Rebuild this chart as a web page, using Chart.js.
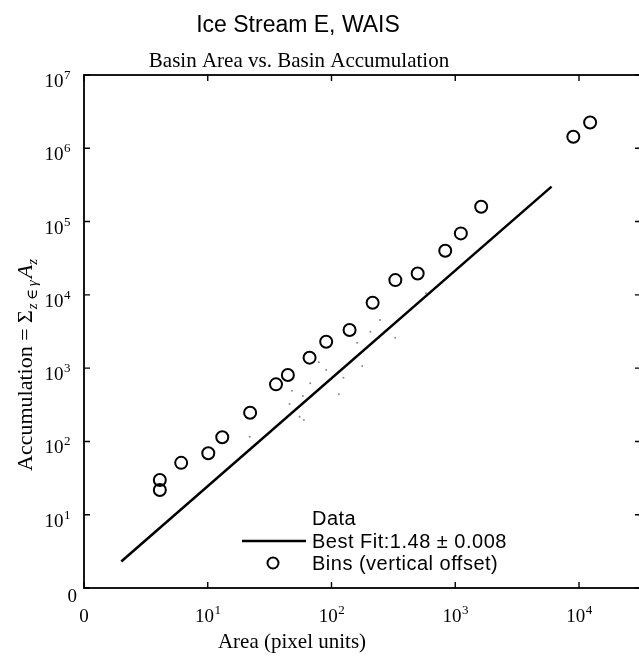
<!DOCTYPE html>
<html>
<head>
<meta charset="utf-8">
<script src="https://cdn.jsdelivr.net/npm/chart.js@4.4.0/dist/chart.umd.min.js"></script>
<style>
html,body{margin:0;padding:0;background:#fff;overflow:hidden}
#wrap{width:639px;height:656px;overflow:hidden}
</style>
</head>
<body>
<div id="wrap"><canvas id="myChart" width="650" height="656"></canvas></div>
<script>
// binned points (vertical offset)
const binArea=[4.1,4.1,6.1,10.1,13.1,22,35.6,44.4,66.5,90.6,140,215,328,497,830,1110,1620,9000,12300]
const binAccum=[29.7,21.7,51,69,114,246,601,805,1390,2290,3310,7800,15900,19600,40000,69000,159000,1440000,2250000]
// best fit line end points
const fitArea=[2,6000]
const fitAccum=[2.3,300000]
// faint raw data dots
const dataArea=[21.8,45.8,47.9,58.7,55.2,59.8,67.3,79,90.6,114.6,125,177,161,206,247,327,580]
const dataAccum=[116,324,492,416,217,196,621,1200,942,439,740,1069,2222,3140,4530,2600,10500]
const xTicks=[1,10,100,1000,10000]
const yTicks=[1,10,100,1000,10000,100000,1000000,10000000]

const toPts=(xs,ys)=>xs.map((x,i)=>({x:x,y:ys[i]}))

const serif='"Liberation Serif", "DejaVu Serif", serif'
const sans='"Liberation Sans", Arial, sans-serif'

// "10" with raised exponent, or "0" for 10^0
function drawPow(ctx,v,x,base,align){
  const e=Math.round(Math.log10(v))
  ctx.textBaseline='alphabetic'
  ctx.textAlign='left'
  if(e===0){
    ctx.font='19px '+serif
    const w=ctx.measureText('0').width
    const sx=align==='right'?x-w:x-w/2
    ctx.fillText('0',sx,base)
    return
  }
  ctx.font='19px '+serif
  const w1=ctx.measureText('10').width
  ctx.font='13px '+serif
  const w2=ctx.measureText(String(e)).width
  const sx=align==='right'?x-w1-w2:x-(w1+w2)/2
  ctx.font='19px '+serif
  ctx.fillText('10',sx,base)
  ctx.font='13px '+serif
  ctx.fillText(String(e),sx+w1+0.5,base-8)
}

const decor={
  id:'decor',
  afterDraw(chart){
    const ctx=chart.ctx
    const a=chart.chartArea
    const sx=chart.scales.x, sy=chart.scales.y
    ctx.save()
    // frame
    ctx.strokeStyle='#000'
    ctx.lineWidth=1.8
    ctx.strokeRect(a.left,a.top,a.right-a.left,a.bottom-a.top)
    // inward ticks
    ctx.lineWidth=1.4
    ctx.beginPath()
    sx.ticks.forEach(t=>{
      const px=sx.getPixelForValue(t.value)
      ctx.moveTo(px,a.bottom);ctx.lineTo(px,a.bottom-6)
      ctx.moveTo(px,a.top);ctx.lineTo(px,a.top+6)
    })
    sy.ticks.forEach(t=>{
      const py=sy.getPixelForValue(t.value)
      ctx.moveTo(a.left,py);ctx.lineTo(a.left+6,py)
      ctx.moveTo(a.right,py);ctx.lineTo(a.right-6,py)
    })
    ctx.stroke()

    // tick labels
    ctx.fillStyle='#000'
    sx.ticks.forEach(t=>{
      drawPow(ctx,t.value,sx.getPixelForValue(t.value),622,'center')
    })
    sy.ticks.forEach(t=>{
      const py=sy.getPixelForValue(t.value)
      if(t.value===1) drawPow(ctx,t.value,77,602,'right')
      else drawPow(ctx,t.value,70,py+12,'right')
    })

    // titles
    ctx.textAlign='center'
    ctx.textBaseline='alphabetic'
    ctx.font='23px '+sans
    ctx.fillText('Ice Stream E, WAIS',298,32)
    ctx.font='21px '+serif
    ctx.fillText('Basin Area vs. Basin Accumulation',299,67)
    ctx.fillText('Area (pixel units)',292,648)

    // y axis title with subscripts
    ctx.save()
    ctx.translate(32,365)
    ctx.rotate(-Math.PI/2)
    const parts=[
      {t:'Accumulation = \u03A3',f:'22px '+serif,dy:0,gap:1},
      {t:'z\u2009\u2208\u2009\u03B3',f:'italic 15px '+serif,dy:5,gap:2},
      {t:'A',f:'italic 22px '+serif,dy:0,gap:0},
      {t:'z',f:'italic 15px '+serif,dy:5,gap:0}
    ]
    let w=0
    parts.forEach(p=>{ctx.font=p.f;w+=ctx.measureText(p.t).width+p.gap})
    let x=-w/2
    ctx.textAlign='left'
    parts.forEach(p=>{ctx.font=p.f;ctx.fillText(p.t,x,p.dy);x+=ctx.measureText(p.t).width+p.gap})
    ctx.restore()

    // legend inside plot
    const ds=chart.data.datasets
    const rows=[518,541,563]
    ctx.textAlign='left'
    ctx.textBaseline='middle'
    ctx.font='20px '+sans
    if('letterSpacing' in ctx) ctx.letterSpacing='0.5px'
    ds.forEach((d,i)=>{
      const y=rows[i]
      if(d.showLine){
        ctx.strokeStyle='#000';ctx.lineWidth=2.5
        ctx.beginPath();ctx.moveTo(242,y);ctx.lineTo(306,y);ctx.stroke()
      }else if(d.pointRadius>2){
        ctx.strokeStyle='#000';ctx.lineWidth=2
        ctx.beginPath();ctx.arc(273,y,5.5,0,Math.PI*2);ctx.stroke()
      }
      ctx.fillStyle='#000'
      ctx.fillText(d.label,312,y+1)
    })
    ctx.restore()
  }
}

const ctx=document.getElementById('myChart').getContext('2d')
const chart=new Chart(ctx,{
  type:'scatter',
  data:{
    datasets:[
      {label:'Data',data:toPts(dataArea,dataAccum),pointRadius:1,pointBorderWidth:0,backgroundColor:'#8a8a8a',borderColor:'#8a8a8a',showLine:false},
      {label:'Best Fit:1.48 \u00B1 0.008',data:toPts(fitArea,fitAccum),showLine:true,pointRadius:0,borderColor:'#000',borderWidth:2.5,fill:false},
      {label:'Bins (vertical offset)',data:toPts(binArea,binAccum),pointRadius:6,pointBorderWidth:2,borderColor:'#000',backgroundColor:'rgba(0,0,0,0)',pointStyle:'circle',showLine:false}
    ]
  },
  options:{
    responsive:false,
    animation:false,
    layout:{padding:{top:75,left:0,right:9,bottom:0}},
    plugins:{legend:{display:false},tooltip:{enabled:false},title:{display:false}},
    scales:{
      x:{
        type:'logarithmic',
        min:1,
        max:31700,
        grid:{display:false,drawTicks:false},
        border:{display:false},
        afterBuildTicks:s=>{s.ticks=xTicks.map(v=>({value:v}))},
        afterFit:s=>{s.height=68},
        ticks:{display:false}
      },
      y:{
        type:'logarithmic',
        min:1,
        max:10000000,
        grid:{display:false,drawTicks:false},
        border:{display:false},
        afterBuildTicks:s=>{s.ticks=yTicks.map(v=>({value:v}))},
        afterFit:s=>{s.width=84},
        ticks:{display:false}
      }
    }
  },
  plugins:[decor]
})
</script>
</body>
</html>
